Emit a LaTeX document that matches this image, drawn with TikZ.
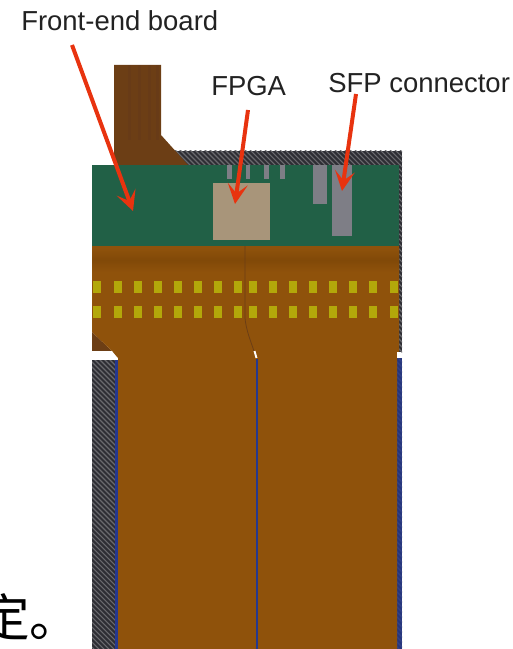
\documentclass[tikz,border=0pt]{standalone}
\usepackage{fontspec}
\setmainfont{Liberation Sans}
\newfontfamily\cjkfont{Noto Sans CJK SC}
\usetikzlibrary{arrows.meta}
\definecolor{pcbgreen}{HTML}{216046}
\definecolor{flex}{HTML}{8F520B}
\definecolor{flexdark}{HTML}{814908}
\definecolor{tabbrown}{HTML}{6C3E15}
\definecolor{tabstripe}{HTML}{63381A}
\definecolor{fpgatan}{HTML}{A8957A}
\definecolor{sfpgray}{HTML}{7E7E86}
\definecolor{padyellow}{HTML}{B3A80A}
\definecolor{hatchdark}{HTML}{2E2E34}
\definecolor{hatchlight}{HTML}{6A6A6E}
\definecolor{bluestrip}{HTML}{25388F}
\definecolor{redarrow}{HTML}{E8330F}
\definecolor{labeltext}{HTML}{222222}
\tikzset{
  flat/.style={draw=none,fill=#1},
  padbox/.style={flat=padyellow,minimum width=6pt,minimum height=9pt,inner sep=0pt,outer sep=0pt},
  label text/.style={font=\fontsize{20.6pt}{23pt}\selectfont,text=labeltext,inner sep=0pt,anchor=base west},
  redline/.style={draw=redarrow,line width=3pt,-{Stealth[length=15pt,width=15pt,inset=7pt]}},
  hatchstroke/.style={draw=hatchlight,line width=0.8pt}
}
\newcommand{\hatchfill}[4]{%
  \begin{scope}
    \clip (#1,#2) rectangle (#3,#4);
    \fill[hatchdark] (#1,#2) rectangle (#3,#4);
    \foreach \k in {-700,-695,...,700} {
      \draw[hatchstroke] (\k,0) -- ++(660,660);
    }
  \end{scope}}
\begin{document}
\begin{tikzpicture}[x=0.75pt,y=-0.75pt]
\useasboundingbox (0,0) rectangle (512,649);
\clip (0,0) rectangle (512,649);
% hatched housing
\hatchfill{165}{151}{402}{165}
\hatchfill{399}{165}{402}{352}
\hatchfill{92}{360}{115}{649}
\hatchfill{397}{358}{402}{649}
\fill[bluestrip,opacity=.8] (397,358) rectangle (402,649);
\fill[bluestrip] (115,360) rectangle (118,649);
% brown tab
\fill[tabbrown] (114,65) -- (161,65) -- (161,135) -- (188,165) -- (114,165) -- cycle;
\foreach \x in {128,138,148,156} {\fill[tabstripe,opacity=.4] (\x,65) rectangle (\x+3,140);}
% flex
\fill[flex] (92,246) rectangle (399,332);
\fill[tabbrown] (92,332) -- (112,351) -- (92,351) -- cycle;
\fill[flex] (92,246) -- (399,246) -- (399,352) -- (397,358) -- (397,649) -- (118,649) -- (118,358) -- (112,351) -- (92,332) -- cycle;
\shade[top color=flex,bottom color=flex,middle color=flexdark] (92,248) rectangle (399,272);
\fill[white] (92,351) -- (112,351) -- (116,358) -- (92,358) -- cycle;
\fill[white] (397,352) rectangle (399.5,358);
\draw[tabbrown,line width=.6pt] (245,246) -- (245,318) .. controls (246,330) and (251,342) .. (254,351);
\draw[white,line width=1.4pt] (254.5,351) -- (256.5,358);
\fill[bluestrip] (255.7,359) rectangle (258.3,649);
% PCB
\fill[pcbgreen] (92,165) rectangle (399,246);
\fill[fpgatan] (213,183) rectangle (270,240);
\foreach \a/\b in {227/231.5,245.5/250,264/268.5,280/284.5} {\fill[sfpgray] (\a,165) rectangle (\b,179);}
\fill[sfpgray] (313,165) rectangle (327,204);
\fill[sfpgray] (332,165) rectangle (352,236);
% pads
\foreach \c [count=\i] in {96.5,117.5,137.5,157.5,177.5,198,217.5,238,252.5,273,293,313,333,353,373,393.5} {
  \node[padbox] (pa\i) at (\c,287) {};
  \node[padbox] (pb\i) at (\c,312) {};
}
% labels
\node[label text] (lfront) at (21,31) {Front-end board};
\node[label text] (lfpga) at (211,96) {FPGA};
\node[label text] (lsfp) at (328,93) {SFP connector};
\node[anchor=base west,inner sep=0pt,font=\fontsize{38pt}{41pt}\cjkfont] (lcjk) at (-21,636) {定。};
% arrows
\coordinate (afrontS) at (72,45);
\coordinate (afrontE) at (133,211);
\coordinate (afpgaS) at (248,110);
\coordinate (afpgaE) at (235,204);
\coordinate (asfpS) at (356,94);
\coordinate (asfpE) at (342,191);
\draw[redline] (afrontS) -- (afrontE);
\draw[redline] (afpgaS) -- (afpgaE);
\draw[redline] (asfpS) -- (asfpE);
\end{tikzpicture}
\end{document}
